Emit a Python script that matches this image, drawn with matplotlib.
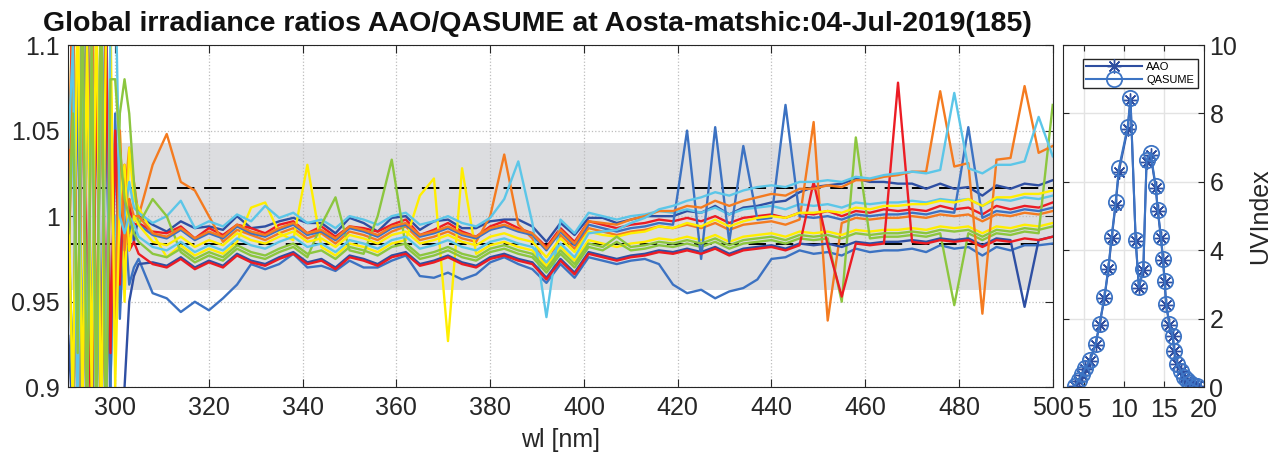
import matplotlib
matplotlib.use('Agg')
import matplotlib.pyplot as plt
import numpy as np

plt.rcParams['font.family'] = ['Liberation Sans', 'DejaVu Sans']

# ---------------- data: spectral ratios (values in 1/1000) ----------------
wl = [290, 291, 292, 293, 294, 295, 296, 297, 298, 299, 300, 301, 302, 303, 304,
      305, 308, 311, 314, 317, 320, 323, 326, 329, 332, 335, 338, 341, 344, 347,
      350, 353, 356, 359, 362, 365, 368, 371, 374, 377, 380, 383, 386, 389, 392,
      395, 398, 401, 404, 407, 410, 413, 416, 419, 422, 425, 428, 431, 434, 437,
      440, 443, 446, 449, 452, 455, 458, 461, 464, 467, 470, 473, 476, 479, 482,
      485, 488, 491, 494, 497, 500]

r01 = [960, 1120, 880, 1150, 850, 1130, 870, 1110, 900, 1080, 940, 1040, 970, 1010, 985,
       1000, 995, 991, 997, 993, 994, 992, 1000, 993, 994, 997, 999, 996, 996, 990, 999, 996, 991, 999, 1000,
       992, 997, 998, 993, 993, 997, 998, 998, 994, 985, 996, 989, 999, 999, 996, 998, 1000, 1000, 1000, 1003,
       1002, 1006, 1001, 1005, 1006, 1008, 1009, 1014, 1017, 1018, 1019, 1022, 1020, 1020, 1019, 1019, 1016, 1019, 1016, 1017,
       1012, 1018, 1016, 1019, 1018, 1021]
r02 = [1000, 900, 1100, 860, 1140, 880, 1120, 850, 1100, 900, 1050, 940, 1000, 960, 970,
       975, 955, 952, 944, 950, 945, 952, 960, 972, 969, 972, 978, 970, 971, 968, 974, 970, 970, 974, 977,
       965, 964, 967, 963, 966, 973, 976, 972, 969, 961, 972, 964, 976, 974, 972, 974, 975, 972, 960, 955,
       957, 952, 956, 958, 963, 975, 976, 980, 978, 979, 977, 981, 979, 980, 980, 981, 979, 983, 981, 982,
       977, 982, 980, 983, 983, 984]
r03 = [975, 1140, 860, 1100, 900, 1150, 880, 1130, 920, 1080, 950, 1030, 975, 1005, 995,
       996, 991, 990, 994, 987, 993, 989, 995, 993, 990, 995, 997, 990, 994, 988, 994, 993, 991, 995, 998,
       989, 992, 996, 991, 988, 994, 997, 993, 990, 982, 993, 985, 997, 995, 993, 995, 996, 998, 997, 999,
       997, 1000, 996, 999, 1000, 1001, 999, 1002, 1001, 1003, 1000, 1003, 1002, 1004, 1003, 1004, 1003, 1006, 1004, 1005,
       1001, 1006, 1004, 1006, 1005, 1008]
r04 = [973, 1060, 900, 1130, 860, 1100, 900, 1140, 870, 1040, 960, 1030, 1010, 1040, 1020,
       1000, 1030, 1048, 1020, 1015, 1000, 985, 992, 989, 986, 990, 993, 987, 990, 984, 991, 989, 986, 991, 994,
       986, 988, 991, 987, 985, 1000, 1036, 995, 987, 970, 989, 981, 993, 991, 989, 991, 992, 994, 993, 995,
       993, 996, 992, 995, 996, 997, 995, 998, 1055, 939, 996, 999, 998, 999, 999, 1000, 999, 1001, 1000, 1001,
       997, 1001, 1000, 1002, 1001, 1003]
r05 = [1000, 1150, 880, 1120, 900, 1100, 850, 1130, 870, 1090, 920, 1050, 950, 1040, 1010,
       1005, 990, 976, 983, 977, 981, 978, 985, 1005, 1008, 990, 986, 1030, 982, 977, 984, 982, 979, 984, 986,
       1012, 1022, 927, 1028, 978, 983, 985, 982, 980, 971, 982, 974, 986, 984, 982, 984, 985, 987, 986, 988,
       986, 989, 985, 988, 989, 990, 988, 991, 990, 991, 989, 992, 991, 992, 992, 993, 992, 994, 993, 994,
       990, 994, 993, 995, 994, 996]
r06 = [1042, 1040, 900, 1100, 870, 1150, 880, 1120, 1130, 900, 1000, 980, 1000, 1020, 1005,
       1002, 996, 1000, 1009, 993, 997, 994, 1001, 997, 1006, 999, 1002, 996, 998, 993, 1000, 998, 995, 1000, 1002,
       995, 997, 1000, 996, 994, 999, 1010, 1032, 996, 941, 998, 990, 1002, 1000, 998, 1000, 1001, 1003, 1002, 1004,
       1002, 1005, 1001, 1004, 1005, 1006, 1004, 1007, 1006, 1007, 1005, 1008, 1007, 1008, 1008, 1009, 1008, 1010, 1009, 1010,
       1006, 1010, 1009, 1011, 1010, 1012]
r07 = [950, 1100, 870, 1150, 880, 1120, 900, 1100, 880, 1050, 940, 1060, 1080, 1060, 1020,
       995, 1010, 1000, 979, 973, 977, 974, 981, 977, 975, 979, 982, 976, 995, 1011, 980, 978, 1000, 1033, 982,
       975, 977, 980, 976, 974, 979, 981, 978, 976, 967, 978, 970, 982, 980, 985, 980, 981, 983, 982, 984,
       982, 985, 981, 984, 985, 986, 984, 987, 986, 987, 950, 1046, 987, 988, 988, 989, 988, 990, 948, 990,
       986, 990, 989, 991, 990, 1065]
r08 = [930, 880, 1120, 860, 1150, 870, 1100, 850, 1130, 870, 880, 860, 900, 950, 965,
       972, 973, 971, 976, 970, 974, 971, 978, 974, 972, 976, 979, 973, 975, 970, 977, 975, 972, 977, 979,
       972, 974, 977, 973, 971, 976, 978, 975, 973, 964, 975, 967, 979, 977, 975, 977, 978, 980, 979, 981,
       979, 982, 978, 981, 982, 983, 981, 984, 983, 984, 982, 985, 984, 985, 985, 986, 985, 987, 986, 987,
       983, 987, 986, 947, 986, 988]
r09 = [1010, 870, 1100, 880, 1140, 860, 1120, 890, 1150, 900, 1060, 960, 1020, 990, 1000,
       995, 989, 987, 992, 986, 990, 987, 994, 990, 988, 992, 995, 989, 991, 986, 993, 991, 988, 993, 995,
       988, 990, 993, 989, 987, 992, 994, 991, 989, 980, 991, 983, 995, 993, 991, 993, 994, 996, 995, 1050,
       975, 1052, 985, 1041, 998, 999, 1065, 1000, 999, 1000, 998, 1001, 1000, 1001, 1001, 1002, 1001, 1003, 1002, 1052,
       999, 1003, 1002, 1004, 1003, 1005]
r10 = [990, 1150, 870, 1120, 950, 880, 1100, 860, 1120, 920, 1050, 960, 1030, 980, 985,
       978, 972, 970, 975, 969, 973, 970, 977, 973, 971, 975, 978, 972, 974, 969, 976, 974, 971, 976, 978,
       971, 973, 976, 972, 970, 975, 977, 974, 972, 963, 974, 966, 978, 976, 974, 976, 977, 979, 978, 980,
       978, 981, 977, 980, 981, 982, 980, 983, 1020, 983, 953, 984, 983, 984, 1078, 985, 984, 986, 985, 986,
       982, 986, 985, 987, 986, 988]
r11 = [970, 1130, 880, 1100, 860, 1150, 900, 1120, 880, 1060, 940, 1050, 980, 1010, 1000,
       1000, 990, 988, 993, 987, 991, 988, 995, 991, 989, 993, 996, 990, 992, 987, 994, 992, 989, 994, 996,
       989, 991, 994, 990, 988, 993, 995, 992, 990, 981, 992, 984, 997, 996, 995, 998, 1000, 1003, 1003, 1006,
       1005, 1009, 1006, 1009, 1011, 1013, 1012, 1016, 1016, 1018, 1017, 1021, 1021, 1023, 1024, 1026, 1026, 1073, 1029, 1031,
       943, 1033, 1034, 1076, 1037, 1041]
r12 = [1020, 880, 1150, 870, 1110, 890, 1140, 860, 1100, 1120, 900, 1010, 1030, 980, 1000,
       995, 985, 983, 988, 982, 986, 983, 990, 986, 984, 988, 991, 985, 987, 982, 989, 987, 984, 989, 991,
       984, 986, 989, 985, 983, 988, 990, 987, 985, 976, 987, 979, 991, 989, 988, 990, 991, 994, 993, 996,
       994, 998, 994, 997, 999, 1000, 999, 1002, 1002, 1003, 1002, 1005, 1004, 1006, 1006, 1007, 1007, 1009, 1008, 1010,
       1006, 1011, 1011, 1013, 1013, 1015]
r13 = [1040, 1100, 870, 1130, 890, 1100, 860, 1150, 880, 1110, 1150, 1000, 990, 1000, 995,
       988, 982, 980, 985, 979, 983, 980, 987, 983, 981, 985, 988, 982, 984, 979, 986, 984, 981, 986, 988,
       981, 983, 986, 982, 980, 985, 987, 984, 982, 973, 984, 976, 990, 991, 992, 996, 999, 1004, 1006, 1009,
       1011, 1014, 1012, 1015, 1017, 1018, 1017, 1020, 1020, 1021, 1020, 1023, 1022, 1024, 1025, 1026, 1025, 1027, 1072, 1028,
       1025, 1030, 1030, 1032, 1058, 1035]
r14 = [990, 1060, 920, 1130, 870, 1100, 880, 1150, 860, 1080, 1080, 1040, 1010, 1000, 990,
       985, 978, 976, 981, 975, 979, 976, 983, 979, 977, 981, 984, 978, 980, 975, 982, 980, 977, 982, 984,
       977, 979, 982, 978, 976, 981, 983, 980, 978, 969, 980, 972, 984, 982, 988, 982, 983, 985, 984, 986,
       984, 987, 983, 986, 987, 988, 986, 989, 988, 989, 987, 990, 989, 990, 990, 991, 990, 992, 991, 992,
       988, 992, 991, 993, 992, 994]

ratio_series = [r01, r02, r03, r04, r05, r06, r07, r08, r09, r10, r11, r12, r13, r14]

band_limits = [0.957, 1.043]
dash_levels = [1.0166, 0.984]

# ---------------- data: UV index time series ----------------
hours = [3.9, 4.4, 4.8, 5.2, 5.8, 6.5, 7.0, 7.6, 8.1, 8.5, 9.0, 9.4, 10.5, 10.85,
         11.5, 11.9, 12.45, 12.85, 13.35, 14.0, 14.25, 14.65, 14.9, 15.1, 15.3, 15.7,
         16.1, 16.3, 16.7, 17.1, 17.5, 17.9, 18.3, 18.7, 19.1]
uv_qasume = [0.05, 0.2, 0.38, 0.55, 0.8, 1.27, 1.85, 2.63, 3.5, 4.4, 5.4, 6.4, 7.6, 8.45,
             4.3, 2.93, 3.46, 6.63, 6.85, 5.87, 5.19, 4.39, 3.76, 3.12, 2.42, 1.85,
             1.51, 1.07, 0.68, 0.49, 0.29, 0.2, 0.12, 0.07, 0.03]
uv_aao = [0.05, 0.19, 0.37, 0.54, 0.78, 1.25, 1.83, 2.6, 3.45, 4.35, 5.33, 6.3, 7.55, 8.4,
          4.28, 2.9, 3.43, 6.58, 6.8, 5.82, 5.15, 4.35, 3.72, 3.09, 2.4, 1.83,
          1.49, 1.05, 0.67, 0.48, 0.28, 0.19, 0.11, 0.06, 0.03]

title = 'Global irradiance ratios AAO/QASUME at Aosta-matshic:04-Jul-2019(185)'
xticks_main = [300, 320, 340, 360, 380, 400, 420, 440, 460, 480, 500]
yticks_main = [0.9, 0.95, 1.0, 1.05, 1.1]
yticklabels_main = ['0.9', '0.95', '1', '1.05', '1.1']

line_colors = ['#2E4FA3', '#3C72C2', '#EC1C24', '#F47B20', '#FFEE00', '#5CC6E8', '#8CC63F',
               '#2E4FA3', '#3C72C2', '#EC1C24', '#F47B20', '#FFEE00', '#5CC6E8', '#8CC63F']

TXT = '#262626'

fig = plt.figure(figsize=(12.74, 4.65), dpi=100)
ax = fig.add_axes([0.0536, 0.1671, 0.7727, 0.7361])

ax.axhspan(band_limits[0], band_limits[1], color='#dcdde0', lw=0, zorder=0)
for lv in dash_levels:
    ax.axhline(lv, color='k', ls=(0, (9, 5)), lw=1.4, zorder=1)
for vals, col in zip(ratio_series, line_colors):
    ax.plot(wl, np.array(vals) / 1000.0, color=col, lw=1.7, zorder=2)

ax.set_xlim(290, 500)
ax.set_ylim(0.9, 1.1)
ax.set_xticks(xticks_main)
ax.set_yticks(yticks_main)
ax.set_yticklabels(yticklabels_main)
ax.set_axisbelow(True)
ax.grid(True, ls=':', color='#bdbdbd', lw=0.9)
ax.tick_params(direction='in', top=True, right=True, length=6, labelsize=18,
               colors=TXT, pad=6)
for s in ax.spines.values():
    s.set_color(TXT)
ax.set_xlabel('wl [nm]', fontsize=18, color=TXT, labelpad=6)

fig.text(43 / 1274, 1 - 31 / 465, title, fontsize=20.5, fontweight='bold',
         ha='left', va='baseline', color='#111111')

# ---------------- right panel ----------------
ax2 = fig.add_axes([0.8341, 0.1671, 0.1109, 0.7361])
ax2.plot(hours, uv_aao, color='#2E4EA0', marker=(8, 2, 0), ms=10, mew=1.0, lw=1.5,
         label='AAO')
ax2.plot(hours, uv_qasume, color='#3D74C4', marker='o', ms=11, mfc='none', mew=1.3,
         lw=1.5, label='QASUME')
ax2.set_xlim(2.4, 20)
ax2.set_ylim(0, 10)
ax2.set_xticks([5, 10, 15, 20])
ax2.set_yticks([0, 2, 4, 6, 8, 10])
ax2.grid(True, color='#e3e3e3', lw=1.0)
ax2.set_axisbelow(True)
ax2.yaxis.tick_right()
ax2.yaxis.set_label_position('right')
ax2.tick_params(direction='in', left=True, right=True, top=True, length=4,
                labelsize=18, colors=TXT, pad=4)
ax2.tick_params(axis='x', pad=8)
for s in ax2.spines.values():
    s.set_color(TXT)
ax2.set_ylabel('UVIndex', fontsize=18, color=TXT, labelpad=8)
leg = ax2.legend(loc='upper left', bbox_to_anchor=(0.144, 0.959), borderaxespad=0,
                 fontsize=8, handlelength=5, fancybox=False, framealpha=1,
                 edgecolor=TXT, borderpad=0.3, labelspacing=0.2, handletextpad=0.4)
leg.get_frame().set_linewidth(1.0)

fig.savefig('out.png', dpi=100)
